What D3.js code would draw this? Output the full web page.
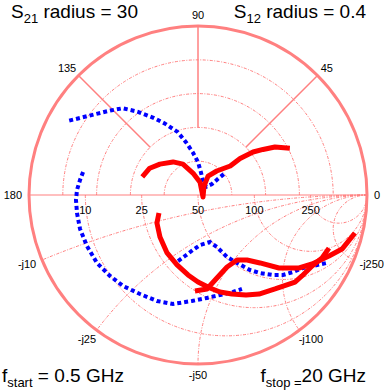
<!DOCTYPE html>
<html>
<head>
<meta charset="utf-8">
<script src="https://cdn.jsdelivr.net/npm/d3@7"></script>
<style>
  body { margin: 0; background: #fff; }
  svg { display: block; }
  text { font-family: "Liberation Sans", Arial, sans-serif; fill: #000; }
</style>
</head>
<body>
<div id="chart"></div>
<script>
// Polar part (upper half): [magnitude, angle in degrees]
var s21 = [[10.4,162],[9.8,151],[8.7,141],[7.35,127],[6.1,116],[4.0,103],[2.3,81],[0.96,-22],
           [1.9,56],[3.8,62],[5.4,52],[7.7,42],[9.9,41],[12.4,38],[14.1,35],[16.1,32],[18.3,27]];
var s12 = [[0.352,150],[0.329,146],[0.306,141],[0.288,136],[0.272,131],[0.244,126],[0.211,120],
           [0.187,115],[0.157,108],[0.129,103],[0.102,97],[0.078,90],[0.055,83],[0.037,72],
           [0.027,45],[0.042,38],[0.061,39],[0.082,39]];

// Smith part (lower half): reflection coefficient [re, im]
var s11 = [[-0.231,-0.107],[-0.243,-0.166],[-0.225,-0.249],[-0.183,-0.343],[-0.124,-0.414],
           [-0.059,-0.473],[0,-0.515],[0.071,-0.550],[0.130,-0.574],[0.201,-0.586],[0.284,-0.592],
           [0.361,-0.586],[0.456,-0.556],[0.574,-0.515],[0.615,-0.479],[0.675,-0.420],
           [0.734,-0.373],[0.775,-0.314]];
var s22 = [[-0.018,-0.568],[0.053,-0.556],[0.112,-0.491],[0.172,-0.426],[0.231,-0.385],
           [0.290,-0.385],[0.367,-0.402],[0.479,-0.432],[0.598,-0.432],[0.675,-0.408],
           [0.775,-0.361],[0.852,-0.320],[0.929,-0.225]];
var s11b = [[-0.680,0.136],[-0.698,0.089],[-0.716,0.030],[-0.722,-0.030],[-0.716,-0.107],
            [-0.698,-0.201],[-0.657,-0.302],[-0.598,-0.402],[-0.521,-0.479],[-0.444,-0.538],
            [-0.343,-0.586],[-0.243,-0.627],[-0.148,-0.645],[-0.036,-0.627],[0.053,-0.609],
            [0.130,-0.592],[0.207,-0.574],[0.260,-0.556]];
var s22b = [[-0.118,-0.391],[-0.077,-0.361],[-0.030,-0.325],[0.012,-0.296],[0.071,-0.278],
            [0.112,-0.308],[0.172,-0.367],[0.231,-0.402],[0.308,-0.444],[0.367,-0.462],
            [0.444,-0.473],[0.503,-0.473],[0.562,-0.456],[0.621,-0.432],[0.680,-0.420],
            [0.763,-0.402]];

// Tick labels
var angleTicks = [0, 45, 90, 135, 180];
var polarRings = [0.2, 0.4, 0.6, 0.8];
var resistances = [10, 25, 50, 100, 250];
var reactances = [10, 25, 50, 100, 250];
var z0 = 50;
var s21Radius = 30, s12Radius = 0.4;

var width = 384, height = 392;
var cx = 198, cy = 195, R = 169;
var gridColor = '#ff8080';

var x = d3.scaleLinear().domain([-1, 1]).range([cx - R, cx + R]);
var y = d3.scaleLinear().domain([-1, 1]).range([cy + R, cy - R]);
var s21Scale = d3.scaleLinear().domain([0, s21Radius]).range([0, 1]);
var s12Scale = d3.scaleLinear().domain([0, s12Radius]).range([0, 1]);

var svg = d3.select('#chart').append('svg')
  .attr('width', width)
  .attr('height', height);

var grid = svg.append('g')
  .attr('fill', 'none')
  .attr('stroke', gridColor);

// polar rings, upper half only
grid.selectAll('.ring')
  .data(polarRings)
  .enter().append('path')
  .attr('stroke-width', 1)
  .attr('stroke-dasharray', '3,1.5,1,1.5')
  .attr('d', function(k) {
    var r = x(k) - x(0);
    return 'M' + x(-k) + ',' + y(0) + 'A' + r + ',' + r + ' 0 0 1 ' + x(k) + ',' + y(0);
  });

// resistance circles, lower half only
grid.selectAll('.res')
  .data(resistances)
  .enter().append('path')
  .attr('stroke-width', 1)
  .attr('stroke-dasharray', '3,1.5,1,1.5')
  .attr('d', function(v) {
    var rn = v / z0;
    var r = (x(1) - x(0)) / (1 + rn);
    return 'M' + x((rn - 1) / (rn + 1)) + ',' + y(0) + 'A' + r + ',' + r + ' 0 0 0 ' + x(1) + ',' + y(0);
  });

// reactance arcs (capacitive side)
grid.selectAll('.reac')
  .data(reactances)
  .enter().append('path')
  .attr('stroke-width', 1)
  .attr('stroke-dasharray', '3,1.5,1,1.5')
  .attr('d', function(v) {
    var xn = v / z0;
    var r = (x(1) - x(0)) / xn;
    var pr = (xn * xn - 1) / (xn * xn + 1), pi = -2 * xn / (xn * xn + 1);
    return 'M' + x(1) + ',' + y(0) + 'A' + r + ',' + r + ' 0 0 0 ' + x(pr) + ',' + y(pi);
  });

// radial spokes
grid.selectAll('.spoke')
  .data([45, 90, 135])
  .enter().append('line')
  .attr('stroke-width', 1.5)
  .attr('x1', function(a) { return x(0.4 * Math.cos(a * Math.PI / 180)); })
  .attr('y1', function(a) { return y(0.4 * Math.sin(a * Math.PI / 180)); })
  .attr('x2', function(a) { return x(Math.cos(a * Math.PI / 180)); })
  .attr('y2', function(a) { return y(Math.sin(a * Math.PI / 180)); });

grid.append('line')
  .attr('stroke-width', 1.2)
  .attr('x1', x(-1)).attr('y1', y(0))
  .attr('x2', x(1)).attr('y2', y(0));

grid.append('circle')
  .attr('cx', x(0)).attr('cy', y(0))
  .attr('r', x(1) - x(0))
  .attr('stroke-width', 3);

// labels round the edge
function edgeLabel(txt, ux, uy) {
  var t = svg.append('text')
    .attr('text-anchor', 'middle')
    .attr('dy', '0.35em')
    .style('font-size', '11px')
    .text(txt);
  var w = t.node().getComputedTextLength();
  t.attr('x', cx + ux * (R + 7) + ux * w / 2)
   .attr('y', cy + uy * (R + 7) + uy * 4);
}

angleTicks.forEach(function(a) {
  var rad = a * Math.PI / 180;
  edgeLabel(String(a), Math.cos(rad), -Math.sin(rad));
});

reactances.forEach(function(v) {
  var xn = v / z0;
  var pr = (xn * xn - 1) / (xn * xn + 1), pi = -2 * xn / (xn * xn + 1);
  edgeLabel('-j' + v, pr, -pi);
});

svg.selectAll('.rlab')
  .data(resistances)
  .enter().append('text')
  .attr('text-anchor', 'middle')
  .attr('dy', '0.35em')
  .style('font-size', '11px')
  .attr('x', function(v) { var rn = v / z0; return x((rn - 1) / (rn + 1)); })
  .attr('y', y(0) + 15)
  .text(function(v) { return v; });

// data curves
var line = d3.line()
  .x(function(d) { return x(d[0]); })
  .y(function(d) { return y(d[1]); });

function polar(scale) {
  return function(d) {
    var m = scale(d[0]), a = d[1] * Math.PI / 180;
    return [m * Math.cos(a), m * Math.sin(a)];
  };
}

var blueCurves = [s12.map(polar(s12Scale)), s11b, s22b];
var redCurves = [s21.map(polar(s21Scale)), s11, s22];

svg.selectAll('.blue')
  .data(blueCurves)
  .enter().append('path')
  .attr('fill', 'none')
  .attr('stroke', '#0000ff')
  .attr('stroke-width', 4)
  .attr('stroke-dasharray', '4,3')
  .attr('d', line);

svg.selectAll('.red')
  .data(redCurves)
  .enter().append('path')
  .attr('fill', 'none')
  .attr('stroke', '#ff0000')
  .attr('stroke-width', 5)
  .attr('stroke-linejoin', 'round')
  .attr('d', line);

// corner titles
function cornerText(px, py, anchor, main, sub, rest) {
  var t = svg.append('text')
    .attr('x', px).attr('y', py)
    .attr('text-anchor', anchor)
    .style('font-size', '19px');
  t.append('tspan').text(main);
  t.append('tspan').attr('dy', 5).style('font-size', '13px').text(sub);
  t.append('tspan').attr('dy', -5).text(rest);
}

cornerText(11, 18, 'start', 'S', '21', ' radius = ' + s21Radius);
cornerText(366, 18, 'end', 'S', '12', ' radius = ' + s12Radius);
cornerText(2, 382, 'start', 'f', 'start', ' = 0.5 GHz');
cornerText(366, 382, 'end', 'f', 'stop =', '20 GHz');
</script>
</body>
</html>
